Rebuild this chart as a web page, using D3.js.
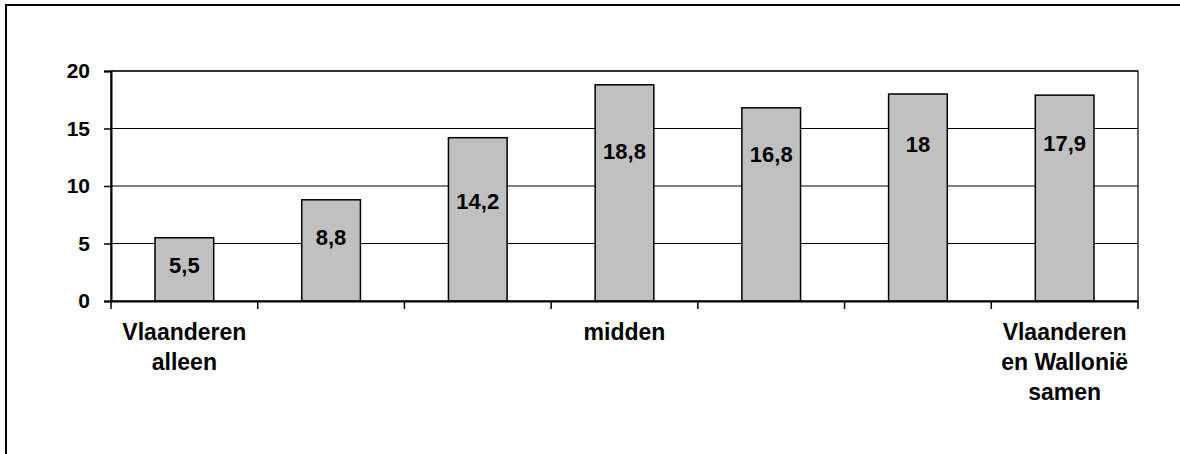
<!DOCTYPE html>
<html>
<head>
<meta charset="utf-8">
<script src="https://cdn.jsdelivr.net/npm/d3@7"></script>
<style>
  body { margin: 0; background: #fff; }
  text { font-family: "Liberation Sans", Arial, sans-serif; font-weight: bold; fill: #000; }
</style>
</head>
<body>
<div class="chart"></div>
<script>
// data
var categories = ["Vlaanderen alleen", "c2", "c3", "midden", "c5", "c6", "Vlaanderen en Wallonië samen"];
var catLabels = [["Vlaanderen", "alleen"], [], [], ["midden"], [], [], ["Vlaanderen", "en Wallonië", "samen"]];
var values = [5.5, 8.8, 14.2, 18.8, 16.8, 18, 17.9];
var valueLabels = ["5,5", "8,8", "14,2", "18,8", "16,8", "18", "17,9"];
var yTicks = [0, 5, 10, 15, 20];

// layout: how far each value label sits below its bar top (px), as in the original
var labelDrop = [27, 37, 63, 66, 46, 50, 48];

var W = 1180, H = 454;
var margin = {top: 71, right: 42, bottom: 153, left: 111},
  width = W - margin.left - margin.right,
  height = H - margin.top - margin.bottom;

var svg = d3.select(".chart")
  .append("svg")
  .attr("width", W)
  .attr("height", H);

// outer chart frame (runs off the right and bottom edge)
svg.append("rect")
  .attr("x", 6).attr("y", 5)
  .attr("width", W + 20).attr("height", H + 20)
  .attr("fill", "none")
  .attr("stroke", "#000")
  .attr("stroke-width", 2);

var g = svg.append("g")
  .attr("transform", "translate(" + margin.left + "," + margin.top + ")");

var x = d3.scaleBand()
  .range([0, width])
  .domain(categories)
  .padding(0);

var y = d3.scaleLinear()
  .range([height, 0])
  .domain([0, 20]);

// gridlines
g.selectAll(".grid")
  .data(yTicks.filter(function(d) { return d > 0; }))
  .enter()
  .append("line")
  .attr("class", "grid")
  .attr("x1", 0).attr("x2", width)
  .attr("y1", function(d) { return y(d); })
  .attr("y2", function(d) { return y(d); })
  .attr("stroke", "#000")
  .attr("stroke-width", 1.2);

// plot area border
g.append("rect")
  .attr("width", width).attr("height", height)
  .attr("fill", "none")
  .attr("stroke", "#000")
  .attr("stroke-width", 1.2);

var barW = x.bandwidth() * 0.4;

g.selectAll(".bar")
  .data(values)
  .enter()
  .append("rect")
  .attr("class", "bar")
  .attr("x", function(d, i) { return x(categories[i]) + (x.bandwidth() - barW) / 2; })
  .attr("y", function(d) { return y(d); })
  .attr("width", barW)
  .attr("height", function(d) { return height - y(d); })
  .attr("fill", "#c0c0c0")
  .attr("stroke", "#000")
  .attr("stroke-width", 1.5);

g.selectAll(".vlabel")
  .data(values)
  .enter()
  .append("text")
  .attr("class", "vlabel")
  .attr("x", function(d, i) { return x(categories[i]) + x.bandwidth() / 2; })
  .attr("y", function(d, i) { return y(d) + labelDrop[i]; })
  .attr("dy", "0.36em")
  .attr("text-anchor", "middle")
  .style("font-size", "22px")
  .text(function(d, i) { return valueLabels[i]; });

// y axis
var yAxis = d3.axisLeft(y)
  .tickValues(yTicks)
  .tickSize(7)
  .tickPadding(14)
  .tickFormat(d3.format("d"));

g.append("g").attr("class", "y axis")
  .call(yAxis)
  .call(function(a) {
    a.select(".domain").attr("stroke-width", 2);
    a.selectAll(".tick line").attr("stroke-width", 1.5);
    a.selectAll("text").style("font-size", "21px").attr("font-family", null);
  });

// x axis: ticks sit between categories, like Excel
var xAxis = d3.axisBottom(x)
  .tickSize(0)
  .tickFormat("");

var xg = g.append("g").attr("class", "x axis")
  .attr("transform", "translate(0," + height + ")")
  .call(xAxis);
xg.select(".domain").attr("stroke-width", 2);

var bounds = categories.map(function(c) { return x(c); }).concat([width]);
xg.selectAll(".btick")
  .data(bounds)
  .enter()
  .append("line")
  .attr("class", "btick")
  .attr("x1", function(d) { return d; })
  .attr("x2", function(d) { return d; })
  .attr("y1", 0).attr("y2", 8)
  .attr("stroke", "#000")
  .attr("stroke-width", 1.5);

var cl = xg.selectAll(".clabel")
  .data(catLabels)
  .enter()
  .append("text")
  .attr("class", "clabel")
  .attr("text-anchor", "middle")
  .attr("transform", function(d, i) { return "translate(" + (x(categories[i]) + x.bandwidth() / 2) + ",0)"; })
  .style("font-size", "23px");

cl.selectAll("tspan")
  .data(function(d) { return d; })
  .enter()
  .append("tspan")
  .attr("x", 0)
  .attr("y", function(d, j) { return 39 + j * 30; })
  .text(function(d) { return d; });
</script>
</body>
</html>
